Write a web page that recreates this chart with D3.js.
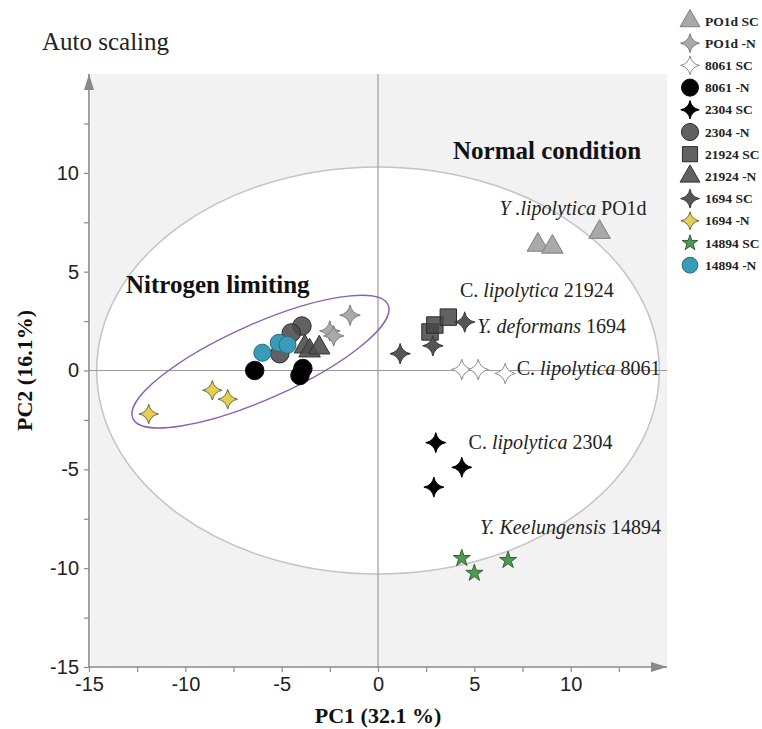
<!DOCTYPE html>
<html>
<head>
<meta charset="utf-8">
<script src="https://cdn.jsdelivr.net/npm/d3@7"></script>
<style>
  body { margin: 0; background: #fff; }
  svg { display: block; }
</style>
</head>
<body>
<div id="chart"></div>
<script>
// PCA scores: [PC1, PC2]
const po1dSC = [[8.3, 6.35], [9.05, 6.25], [11.5, 7.0]];
const po1dN = [[-1.45, 2.8], [-2.5, 2.0], [-2.3, 1.75]];
const s8061SC = [[4.35, 0.05], [5.2, 0.05], [6.6, -0.15]];
const s8061N = [[-6.4, 0.0], [-3.9, 0.1], [-4.05, -0.25]];
const s2304SC = [[3.0, -3.65], [4.35, -4.9], [2.9, -5.9]];
const s2304N = [[-3.95, 2.25], [-4.5, 1.9], [-5.1, 0.85]];
const s21924SC = [[2.7, 1.95], [2.95, 2.3], [3.65, 2.7]];
const s21924N = [[-3.8, 1.2], [-3.55, 1.0], [-3.05, 1.15]];
const s1694SC = [[1.15, 0.85], [2.85, 1.25], [4.5, 2.45]];
const s1694N = [[-11.9, -2.2], [-8.6, -1.0], [-7.8, -1.45]];
const s14894SC = [[4.35, -9.5], [5.0, -10.25], [6.75, -9.6]];
const s14894N = [[-6.0, 0.9], [-5.15, 1.4], [-4.7, 1.3]];

const groupNames = ["PO1d SC", "PO1d -N", "8061 SC", "8061 -N", "2304 SC", "2304 -N",
  "21924 SC", "21924 -N", "1694 SC", "1694 -N", "14894 SC", "14894 -N"];
const groupPoints = [po1dSC, po1dN, s8061SC, s8061N, s2304SC, s2304N,
  s21924SC, s21924N, s1694SC, s1694N, s14894SC, s14894N];

const tickValues = d3.range(-15, 15, 2.5);
const domain = [-15, 15];

// confidence ellipse (semi-axes in PC units) and nitrogen group ellipse
const bigEllipse = { cx: 0, cy: 0, rx: 14.6, ry: 10.3 };
const nEllipse = { cx: -6.1, cy: 0.45, a: 7.25, b: 1.9, angle: 24 };

const width = 762, height = 729;

const svg = d3.select("#chart").append("svg")
  .attr("width", width)
  .attr("height", height);

const x = d3.scaleLinear().domain(domain).range([89, 667]);
const y = d3.scaleLinear().domain(domain).range([667, 74]);

// 4 point "sparkle" star
const sparkle = {
  draw(context, size) {
    const r = Math.sqrt(size) / 2, k = 0.17 * r;
    context.moveTo(0, -r);
    context.quadraticCurveTo(k, -k, r, 0);
    context.quadraticCurveTo(k, k, 0, r);
    context.quadraticCurveTo(-k, k, -r, 0);
    context.quadraticCurveTo(-k, -k, 0, -r);
    context.closePath();
  }
};

const styles = [
  { type: d3.symbolTriangle, size: 200, fill: "#a9a9a9", stroke: "#7d7d7d" },
  { type: sparkle, size: 420, fill: "#a9a9a9", stroke: "#7d7d7d" },
  { type: sparkle, size: 420, fill: "#ffffff", stroke: "#8c8c8c" },
  { type: d3.symbolCircle, size: 270, fill: "#000000", stroke: "#111" },
  { type: sparkle, size: 400, fill: "#000000", stroke: "#000" },
  { type: d3.symbolCircle, size: 270, fill: "rgba(75,75,75,0.88)", stroke: "#2a2a2a" },
  { type: d3.symbolSquare, size: 270, fill: "rgba(70,70,70,0.85)", stroke: "#2a2a2a" },
  { type: d3.symbolTriangle, size: 200, fill: "rgba(80,80,80,0.9)", stroke: "#333" },
  { type: sparkle, size: 420, fill: "#555555", stroke: "#3a3a3a" },
  { type: sparkle, size: 380, fill: "#e3cf52", stroke: "#6e6a4a" },
  { type: d3.symbolStar, size: 90, fill: "#4f9a52", stroke: "#2e6331" },
  { type: d3.symbolCircle, size: 230, fill: "#3a9bb6", stroke: "#2a6b80" }
];

// plot background
svg.append("rect")
  .attr("x", x(-15) + 2).attr("y", y(15))
  .attr("width", x(15) - x(-15) - 2).attr("height", y(-15) - y(15))
  .attr("fill", "#f2f2f2");

svg.append("ellipse")
  .attr("cx", x(bigEllipse.cx)).attr("cy", y(bigEllipse.cy))
  .attr("rx", x(bigEllipse.rx) - x(0)).attr("ry", y(0) - y(bigEllipse.ry))
  .attr("fill", "#fff")
  .attr("stroke", "#c4c4c4")
  .attr("stroke-width", 1.5);

// zero lines
svg.append("line")
  .attr("x1", x(0)).attr("x2", x(0)).attr("y1", y(15)).attr("y2", y(-15))
  .attr("stroke", "#9a9a9a").attr("stroke-width", 1.2);
svg.append("line")
  .attr("x1", x(-15)).attr("x2", x(15)).attr("y1", y(0)).attr("y2", y(0))
  .attr("stroke", "#9a9a9a").attr("stroke-width", 1.2);

// nitrogen limiting ellipse
svg.append("ellipse")
  .attr("transform", `translate(${x(nEllipse.cx)},${y(nEllipse.cy)}) rotate(${-nEllipse.angle})`)
  .attr("rx", x(nEllipse.a) - x(0)).attr("ry", y(0) - y(nEllipse.b))
  .attr("fill", "none")
  .attr("stroke", "#8a62b3")
  .attr("stroke-width", 1.4);

// axes
const fmt = d => (d % 5 === 0 ? d : "");
const xAxis = svg.append("g")
  .attr("transform", `translate(0,${y(-15)})`)
  .call(d3.axisBottom(x).tickValues(tickValues).tickSize(5).tickPadding(5).tickFormat(fmt));
const yAxis = svg.append("g")
  .attr("transform", `translate(${x(-15)},0)`)
  .call(d3.axisLeft(y).tickValues(tickValues).tickSize(5).tickPadding(5).tickFormat(fmt));

[xAxis, yAxis].forEach(a => {
  a.select(".domain").remove();
  a.selectAll(".tick line").attr("stroke", "#8a8a8a").attr("stroke-width", 1.2);
  a.selectAll(".tick text")
    .attr("fill", "#222")
    .style("font-family", "'Liberation Sans', Arial, sans-serif")
    .style("font-size", "20px");
});

const defs = svg.append("defs");
defs.append("marker")
  .attr("id", "arrow")
  .attr("viewBox", "0 0 16 10")
  .attr("refX", 16).attr("refY", 5)
  .attr("markerWidth", 16).attr("markerHeight", 10)
  .attr("markerUnits", "userSpaceOnUse")
  .attr("orient", "auto")
  .append("path")
  .attr("d", "M0,0L16,5L0,10Z")
  .attr("fill", "#8a8a8a");

svg.append("line")
  .attr("x1", x(-15)).attr("x2", x(15)).attr("y1", y(-15)).attr("y2", y(-15))
  .attr("stroke", "#8a8a8a").attr("stroke-width", 1.6)
  .attr("marker-end", "url(#arrow)");
svg.append("line")
  .attr("x1", x(-15)).attr("x2", x(-15)).attr("y1", y(-15)).attr("y2", y(15))
  .attr("stroke", "#8a8a8a").attr("stroke-width", 1.6)
  .attr("marker-end", "url(#arrow)");

// points
const sym = d3.symbol();
groupPoints.forEach((pts, i) => {
  const st = styles[i];
  svg.append("g").selectAll("path")
    .data(pts)
    .join("path")
    .attr("transform", d => `translate(${x(d[0])},${y(d[1])})`)
    .attr("d", sym.type(st.type).size(st.size)())
    .attr("fill", st.fill)
    .attr("stroke", st.stroke)
    .attr("stroke-width", 1);
});

// legend
const legend = svg.append("g").attr("transform", "translate(690,21)");
groupNames.forEach((name, i) => {
  const st = styles[i];
  const row = legend.append("g").attr("transform", `translate(0,${i * 22.2})`);
  row.append("path")
    .attr("d", sym.type(st.type).size(st.size * 0.85)())
    .attr("fill", st.fill)
    .attr("stroke", st.stroke)
    .attr("stroke-width", 1);
  row.append("text")
    .attr("x", 15).attr("y", 4.5)
    .style("font-family", "'Liberation Serif', 'Times New Roman', serif")
    .style("font-weight", "bold")
    .style("font-size", "13.5px")
    .attr("fill", "#222")
    .text(name);
});

const serif = "'Liberation Serif', 'Times New Roman', serif";

// species labels: [text parts], x, y (PC units)
const speciesLabels = [
  { parts: [["Y .lipolytica", true], [" PO1d", false]], at: [6.3, 7.85] },
  { parts: [["C. ", false], ["lipolytica", true], [" 21924", false]], at: [4.25, 3.7] },
  { parts: [["Y. deformans", true], [" 1694", false]], at: [5.15, 1.9] },
  { parts: [["C. ", false], ["lipolytica", true], [" 8061", false]], at: [7.2, -0.25] },
  { parts: [["C. ", false], ["lipolytica", true], [" 2304", false]], at: [4.7, -3.95] },
  { parts: [["Y. Keelungensis", true], [" 14894", false]], at: [5.3, -8.25] }
];

speciesLabels.forEach(l => {
  const t = svg.append("text")
    .attr("x", x(l.at[0])).attr("y", y(l.at[1]))
    .style("font-family", serif)
    .style("font-size", "20px")
    .attr("fill", "#222");
  l.parts.forEach(p => {
    t.append("tspan").style("font-style", p[1] ? "italic" : "normal").text(p[0]);
  });
});

svg.append("text")
  .attr("x", 453).attr("y", 159)
  .style("font-family", serif).style("font-weight", "bold").style("font-size", "25px")
  .attr("fill", "#111")
  .text("Normal condition");
svg.append("text")
  .attr("x", 126).attr("y", 293)
  .style("font-family", serif).style("font-weight", "bold").style("font-size", "25px")
  .attr("fill", "#111")
  .text("Nitrogen limiting");

svg.append("text")
  .attr("x", 42).attr("y", 50)
  .style("font-family", serif).style("font-size", "25px")
  .attr("fill", "#222")
  .text("Auto scaling");

svg.append("text")
  .attr("x", x(0)).attr("y", 723)
  .attr("text-anchor", "middle")
  .style("font-family", serif).style("font-weight", "bold").style("font-size", "22px")
  .attr("fill", "#111")
  .text("PC1 (32.1 %)");
svg.append("text")
  .attr("transform", `translate(32,${y(0)}) rotate(-90)`)
  .attr("text-anchor", "middle")
  .style("font-family", serif).style("font-weight", "bold").style("font-size", "22px")
  .attr("fill", "#111")
  .text("PC2 (16.1%)");
</script>
</body>
</html>
